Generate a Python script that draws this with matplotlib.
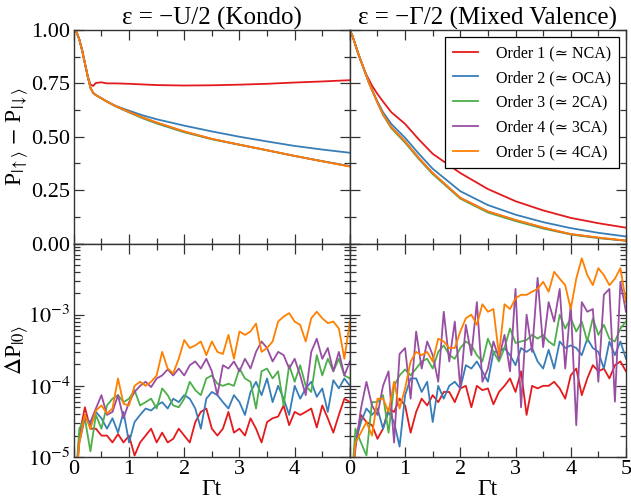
import numpy as np
import matplotlib
matplotlib.use("Agg")
import matplotlib.pyplot as plt
from matplotlib.ticker import MultipleLocator, LogLocator, NullFormatter

plt.rcParams['font.family'] = ['Liberation Serif', 'DejaVu Serif']
plt.rcParams['mathtext.fontset'] = 'stix'

# ---------------- data ----------------
labels = ["Order 1 (\u2243 NCA)", "Order 2 (\u2243 OCA)", "Order 3 (\u2243 2CA)",
          "Order 4 (\u2243 3CA)", "Order 5 (\u2243 4CA)"]
colors = ["#e41a1c", "#377eb8", "#4daf4a", "#984ea3", "#ff7f00"]

# top panels: spin polarisation
t_top = [0, 0.05, 0.1, 0.15, 0.2, 0.25, 0.3, 0.35, 0.4, 0.5, 0.6, 0.75, 1.0,
         1.25, 1.5, 2.0, 2.5, 3.0, 3.5, 4.0, 4.5, 5.0]
kondo_red    = [1.0, 0.99, 0.955, 0.905, 0.845, 0.785, 0.745, 0.738, 0.752, 0.755, 0.75, 0.75, 0.748,
                0.745, 0.742, 0.74, 0.741, 0.744, 0.748, 0.754, 0.759, 0.765]
kondo_blue   = [1.0, 0.99, 0.955, 0.905, 0.845, 0.785, 0.73, 0.705, 0.695, 0.68, 0.665, 0.645, 0.622,
                0.60, 0.582, 0.552, 0.525, 0.50, 0.478, 0.457, 0.44, 0.425]
kondo_green  = [1.0, 0.99, 0.955, 0.905, 0.845, 0.785, 0.73, 0.705, 0.695, 0.68, 0.664, 0.643, 0.614,
                0.586, 0.562, 0.521, 0.488, 0.462, 0.436, 0.41, 0.386, 0.362]
kondo_purple = [1.0, 0.99, 0.955, 0.905, 0.845, 0.785, 0.73, 0.705, 0.695, 0.68, 0.665, 0.645, 0.616,
                0.59, 0.566, 0.524, 0.49, 0.463, 0.437, 0.41, 0.385, 0.362]
kondo_orange = [1.0, 0.99, 0.955, 0.905, 0.845, 0.785, 0.73, 0.705, 0.695, 0.68, 0.665, 0.645, 0.616,
                0.59, 0.567, 0.525, 0.49, 0.463, 0.437, 0.41, 0.385, 0.36]

mv_red    = [1.0, 0.97, 0.93, 0.89, 0.855, 0.82, 0.79, 0.765, 0.74, 0.70, 0.665, 0.615, 0.56,
             0.487, 0.42, 0.33, 0.255, 0.198, 0.155, 0.12, 0.095, 0.074]
mv_blue   = [1.0, 0.97, 0.93, 0.89, 0.855, 0.82, 0.785, 0.75, 0.72, 0.665, 0.615, 0.56, 0.495,
             0.42, 0.35, 0.245, 0.18, 0.135, 0.10, 0.072, 0.05, 0.033]
mv_green  = [1.0, 0.97, 0.93, 0.89, 0.855, 0.82, 0.785, 0.75, 0.72, 0.66, 0.603, 0.54, 0.472,
             0.395, 0.325, 0.21, 0.145, 0.105, 0.07, 0.042, 0.025, 0.013]
mv_purple = [1.0, 0.97, 0.93, 0.89, 0.855, 0.82, 0.785, 0.75, 0.72, 0.66, 0.605, 0.545, 0.478,
             0.40, 0.33, 0.214, 0.15, 0.11, 0.074, 0.044, 0.027, 0.013]
mv_orange = [1.0, 0.97, 0.93, 0.89, 0.855, 0.82, 0.785, 0.75, 0.72, 0.66, 0.605, 0.545, 0.478,
             0.40, 0.33, 0.214, 0.15, 0.11, 0.075, 0.044, 0.028, 0.014]

# bottom panels: error of the empty-state population
t_bot = [round(0.1 * i, 1) for i in range(51)]
dk_red = [2e-6, 2.0e-5, 5.0e-5, 2.5e-5, 2.5e-5, 2.0e-5, 2.0e-5, 1.6e-5, 2.1e-5, 1.6e-5, 2.0e-5,
          1.05e-5, 1.6e-5, 2.0e-5, 2.5e-5, 1.6e-5, 2.2e-5, 1.6e-5, 1.8e-5, 2.5e-5, 2.0e-5,
          1.6e-5, 3.1e-5, 4.3e-5, 4.8e-5, 2.5e-5, 2.0e-5, 2.5e-5, 4.3e-5, 2.2e-5, 2.5e-5,
          2.0e-5, 3.5e-5, 2.5e-5, 1.6e-5, 3.1e-5, 3.5e-5, 3.7e-5, 5.3e-5, 2.8e-5, 4.3e-5,
          3.9e-5, 4.3e-5, 4.8e-5, 2.6e-5, 5.3e-5, 3.5e-5, 2.2e-5, 3.9e-5, 6.6e-5, 5.9e-5]
dk_blue = [2e-6, 1.8e-5, 3.9e-5, 2.8e-5, 4.3e-5, 3.5e-5, 2.5e-5, 3.5e-5, 2.2e-5, 4.3e-5, 1.6e-5,
           3.1e-5, 3.9e-5, 4.8e-5, 4.5e-5, 5.3e-5, 5.9e-5, 4.8e-5, 6.6e-5, 5.9e-5, 7.4e-5,
           6.6e-5, 4.8e-5, 2.5e-5, 6.6e-5, 8.2e-5, 7.4e-5, 5.9e-5, 4.8e-5, 7.4e-5, 5.9e-5,
           3.9e-5, 8.2e-5, 1.14e-4, 7.4e-5, 1.27e-4, 5.9e-5, 1.0e-4, 6.6e-5, 3.9e-5, 1.0e-4,
           6.6e-5, 9.2e-5, 1.14e-4, 7.0e-5, 9.2e-5, 4.3e-5, 1.2e-4, 9.2e-5, 1.27e-4, 1.0e-4]
dk_green = [2e-6, 2.5e-5, 3.5e-5, 1.2e-5, 3.9e-5, 2.5e-5, 5.3e-5, 6.6e-5, 7.4e-5, 5.9e-5, 6.6e-5,
            8.7e-5, 5.3e-5, 5.9e-5, 6.6e-5, 4.8e-5, 9.2e-5, 7.4e-5, 5.3e-5, 5.0e-5, 6.6e-5,
            1.14e-4, 8.7e-5, 7.4e-5, 1.27e-4, 1.4e-4, 1.07e-4, 1.0e-4, 1.07e-4, 1.0e-4, 1.75e-4,
            1.27e-4, 1.14e-4, 4.8e-5, 1.6e-4, 1.75e-4, 1.27e-4, 1.6e-4, 5.3e-5, 1.95e-4, 1.14e-4,
            1.95e-4, 1.0e-4, 8.2e-5, 2.7e-4, 1.4e-4, 2.4e-4, 1.6e-4, 2.4e-4, 1.4e-4, 1.27e-4]
dk_purple = [2e-6, 1.6e-5, 3.5e-5, 3.1e-5, 4.8e-5, 7.4e-5, 3.9e-5, 4.3e-5, 7.4e-5, 3.5e-5, 5.9e-5,
             8.2e-5, 1.0e-4, 1.14e-4, 9.6e-5, 1.27e-4, 1.4e-4, 1.7e-4, 1.4e-4, 1.75e-4, 1.4e-4,
             1.95e-4, 2.2e-4, 1.75e-4, 2.4e-4, 1.6e-4, 7.4e-5, 1.95e-4, 1.75e-4, 2.2e-4, 1.6e-4,
             2.4e-4, 1.75e-4, 3.0e-4, 4.2e-4, 3.4e-4, 2.2e-4, 3.0e-4, 2.7e-4, 1.75e-4, 2.4e-4,
             1.4e-4, 7.4e-5, 3.0e-4, 4.6e-4, 2.4e-4, 3.4e-4, 1.6e-4, 3.0e-4, 1.4e-4, 2.2e-4]
dk_orange = [2e-6, 1.6e-5, 3.9e-5, 2.5e-5, 4.5e-5, 5.3e-5, 4.1e-5, 4.8e-5, 1.27e-4, 5.6e-5, 5.3e-5,
             1.0e-4, 1.14e-4, 1.0e-4, 1.14e-4, 1.4e-4, 3.0e-4, 1.75e-4, 1.5e-4, 2.4e-4, 4.4e-4,
             3.4e-4, 3.7e-4, 4.2e-4, 2.7e-4, 4.2e-4, 3.0e-4, 2.8e-4, 5.2e-4, 2.4e-4, 5.8e-4,
             5.2e-4, 5.8e-4, 7.5e-4, 3.0e-4, 3.4e-4, 4.2e-4, 8.0e-4, 9.4e-4, 1.05e-3, 8.0e-4,
             7.2e-4, 4.2e-4, 8.9e-4, 1.1e-3, 8.9e-4, 7.6e-4, 8.0e-4, 6.4e-4, 2.4e-4, 8.0e-4]

dm_red = [2e-6, 1.5e-5, 3.9e-5, 3.1e-5, 2.8e-5, 1.8e-5, 2.5e-5, 4.8e-5, 4.3e-5, 6.6e-5, 5.3e-5,
          2.2e-5, 4.3e-5, 6.6e-5, 5.3e-5, 7.4e-5, 5.9e-5, 8.2e-5, 8.2e-5, 5.9e-5, 9.2e-5,
          1.0e-4, 5.0e-5, 1.0e-4, 8.7e-5, 9.2e-5, 5.5e-5, 8.2e-5, 1.0e-4, 1.27e-4, 8.2e-5,
          1.6e-4, 3.9e-5, 1.0e-4, 9.2e-5, 1.0e-4, 1.0e-4, 1.14e-4, 9.2e-5, 6.6e-5, 1.4e-4,
          1.75e-4, 7.4e-5, 1.27e-4, 1.95e-4, 1.6e-4, 1.75e-4, 1.27e-4, 1.95e-4, 2.2e-4, 1.6e-4]
dm_blue = [2e-6, 1.6e-5, 3.1e-5, 4.8e-5, 3.9e-5, 4.8e-5, 2.5e-5, 4.3e-5, 3.1e-5, 1.4e-5, 7.4e-5,
           1.27e-4, 1.27e-4, 8.2e-5, 1.14e-4, 3.1e-5, 1.0e-4, 6.6e-5, 1.0e-4, 1.14e-4, 9.2e-5,
           1.95e-4, 1.75e-4, 2.2e-4, 1.6e-4, 1.14e-4, 3.0e-4, 3.0e-4, 3.4e-4, 2.7e-4, 1.95e-4,
           3.4e-4, 3.0e-4, 3.4e-4, 2.2e-4, 1.75e-4, 3.2e-4, 1.75e-4, 4.2e-4, 3.4e-4, 3.7e-4,
           3.4e-4, 2.7e-4, 4.6e-4, 3.4e-4, 3.0e-4, 1.75e-4, 4.2e-4, 2.7e-4, 4.2e-4, 2.4e-4]
dm_green = [2e-6, 2.5e-5, 1.6e-5, 1.05e-5, 5.9e-5, 5.9e-5, 7.4e-5, 2.2e-5, 1.0e-4, 1.4e-4, 1.7e-4,
            1.4e-4, 1.75e-4, 2.2e-4, 2.4e-4, 1.75e-4, 3.0e-4, 3.7e-4, 2.7e-4, 2.4e-4, 3.4e-4,
            4.2e-4, 3.7e-4, 2.7e-4, 2.2e-4, 4.6e-4, 3.0e-4, 2.2e-4, 3.4e-4, 6.4e-4, 4.0e-4,
            4.2e-4, 4.4e-4, 5.2e-4, 4.6e-4, 5.2e-4, 4.2e-4, 3.7e-4, 1.0e-3, 6.4e-4, 8.9e-4,
            5.8e-4, 8.0e-4, 4.2e-4, 8.9e-4, 5.2e-4, 7.2e-4, 4.6e-4, 4.2e-4, 6.4e-4, 8.0e-4]
dm_purple = [2e-6, 1.3e-5, 4.8e-5, 1.14e-4, 5.3e-5, 3.9e-5, 1.0e-4, 1.6e-4, 1.6e-5, 2.8e-4, 3.4e-4,
             6.6e-5, 5.8e-4, 1.75e-4, 4.2e-4, 2.7e-4, 1.14e-4, 1.1e-3, 2.2e-4, 8.0e-4, 9.2e-5,
             7.2e-4, 2.7e-4, 1.5e-3, 1.14e-4, 1.75e-4, 4.2e-4, 2.4e-4, 5.2e-4, 1.6e-4, 2.3e-3,
             5.0e-5, 1.0e-3, 3.0e-4, 3.3e-3, 3.5e-4, 1.5e-3, 8.0e-4, 2.3e-3, 1.75e-4, 1.4e-3,
             2.8e-5, 1.5e-3, 1.1e-3, 1.2e-3, 1.14e-4, 1.9e-3, 2.3e-3, 6.0e-5, 2.9e-3, 1.1e-3]
dm_orange = [2e-6, 1.6e-5, 2.2e-5, 3.1e-5, 2.0e-5, 6.6e-5, 6.6e-5, 4.3e-5, 1.14e-4, 4.8e-5, 9.2e-5,
             2.2e-4, 3.0e-4, 2.7e-4, 3.0e-4, 2.2e-4, 4.6e-4, 4.2e-4, 3.4e-4, 3.4e-4, 5.8e-4,
             8.9e-4, 1.0e-3, 7.2e-4, 1.4e-3, 1.1e-3, 1.2e-3, 2.7e-4, 1.4e-3, 1.2e-3, 1.7e-3,
             1.9e-3, 1.9e-3, 2.1e-3, 2.3e-3, 2.9e-3, 2.1e-3, 4.0e-3, 3.2e-3, 2.6e-3, 1.2e-3,
             3.2e-3, 6.2e-3, 3.6e-3, 2.6e-3, 4.5e-3, 3.6e-3, 2.6e-3, 3.2e-3, 4.5e-3, 1.5e-3]

top_left = [kondo_red, kondo_blue, kondo_green, kondo_purple, kondo_orange]
top_right = [mv_red, mv_blue, mv_green, mv_purple, mv_orange]
bot_left = [dk_red, dk_blue, dk_green, dk_purple, dk_orange]
bot_right = [dm_red, dm_blue, dm_green, dm_purple, dm_orange]

titles = ["\u03b5 = \u2212U/2 (Kondo)", "\u03b5 = \u2212\u0393/2 (Mixed Valence)"]

# ---------------- figure ----------------
fig = plt.figure(figsize=(6.31, 5.0), dpi=100)
gs = fig.add_gridspec(2, 2, left=0.117, right=0.992, top=0.94, bottom=0.086,
                      hspace=0, wspace=0)
axes = [[fig.add_subplot(gs[i, j]) for j in range(2)] for i in range(2)]

FS = 16
spine_col = "#333333"
lw = 1.3

for j, (series_top, series_bot) in enumerate([(top_left, bot_left), (top_right, bot_right)]):
    at = axes[0][j]
    ab = axes[1][j]
    for s, c, lab in zip(series_top, colors, labels):
        at.plot(t_top, s, color=c, lw=lw, label=lab)
    for s, c in zip(series_bot, colors):
        ab.plot(t_bot, s, color=c, lw=lw)
    at.set_title(titles[j], fontsize=18, pad=2)
    at.set_xlim(0, 5)
    ab.set_xlim(0, 5)
    at.set_ylim(0, 1)
    ab.set_yscale('log')
    ab.set_ylim(1e-5, 1e-2)
    at.xaxis.set_major_locator(MultipleLocator(1))
    at.xaxis.set_minor_locator(MultipleLocator(0.5))
    ab.xaxis.set_major_locator(MultipleLocator(1))
    ab.xaxis.set_minor_locator(MultipleLocator(0.5))
    at.yaxis.set_major_locator(MultipleLocator(0.25))
    at.yaxis.set_minor_locator(MultipleLocator(0.125))
    ab.yaxis.set_major_locator(LogLocator(base=10, numticks=10))
    ab.yaxis.set_minor_locator(LogLocator(base=10, subs=np.arange(2, 10), numticks=20))
    ab.yaxis.set_minor_formatter(NullFormatter())
    at.set_xticklabels([])
    for ax in (at, ab):
        ax.tick_params(which='both', direction='in', top=True, right=True,
                       labelsize=FS, color=spine_col, width=0.9, pad=2.5)
        ax.tick_params(which='major', length=7)
        ax.tick_params(which='minor', length=4)
        for sp in ax.spines.values():
            sp.set_color(spine_col)
            sp.set_linewidth(1.0)
    ab.set_xlabel("\u0393t", fontsize=17, labelpad=0)

# tick labels
axes[0][0].set_yticks([0, 0.25, 0.5, 0.75, 1.0])
axes[0][0].set_yticklabels(["0.00", "0.25", "0.50", "0.75", "1.00"])
axes[1][0].set_yticks([1e-5, 1e-4, 1e-3, 1e-2])
axes[1][0].set_yticklabels([r"$10^{-5}$", r"$10^{-4}$", r"$10^{-3}$", ""])
axes[0][1].set_yticklabels([])
axes[1][1].set_yticks([1e-5, 1e-4, 1e-3, 1e-2])
axes[1][1].set_yticklabels([])
axes[1][0].set_xticks([0, 1, 2, 3, 4, 5])
axes[1][0].set_xticklabels(["0", "1", "2", "3", "4", ""])
axes[1][1].set_xticks([0, 1, 2, 3, 4, 5])
axes[1][1].set_xticklabels(["0", "1", "2", "3", "4", "5"])

axes[0][0].set_ylabel(r"P$_{|\!\uparrow\rangle}$ $-$ P$_{|\!\downarrow\rangle}$", fontsize=17)
axes[1][0].set_ylabel(r"$\Delta$P$_{|0\rangle}$", fontsize=17)
axes[0][0].yaxis.set_label_coords(-0.16, 0.5)
axes[1][0].yaxis.set_label_coords(-0.16, 0.5)

leg = axes[0][1].legend(loc='upper right', fontsize=11.5, frameon=True, fancybox=False,
                        edgecolor='black', framealpha=1, handlelength=1.6, handletextpad=1.1,
                        borderpad=0.5, labelspacing=0.55, borderaxespad=0.45)
leg.get_frame().set_linewidth(0.9)

fig.savefig("out.png", dpi=100)
